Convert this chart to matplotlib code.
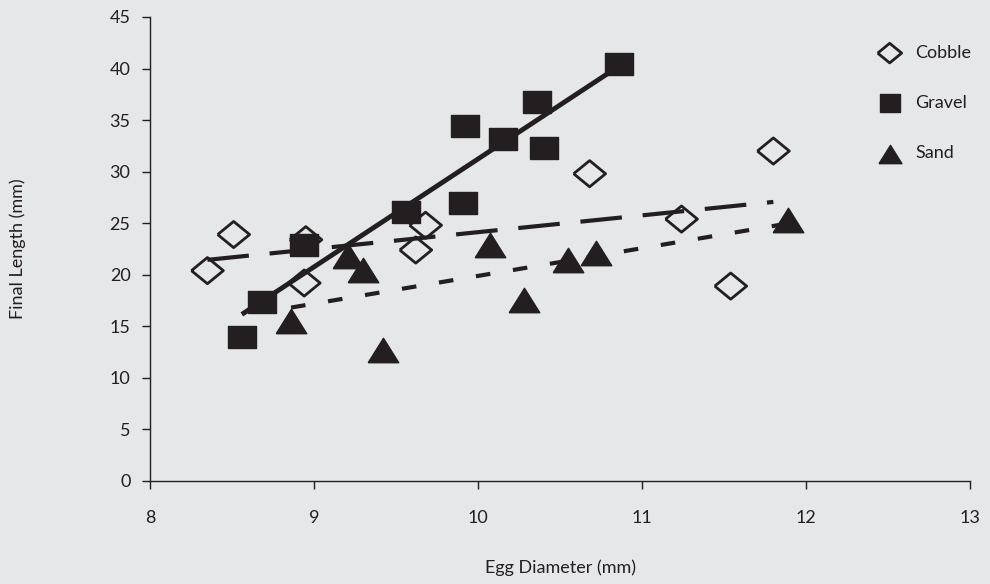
import numpy as np
import matplotlib.pyplot as plt

plt.rcParams['font.family'] = ['Lato', 'DejaVu Sans']

# Cobble
cobble_x = [8.35, 8.51, 8.95, 8.94, 9.68, 9.62, 10.68, 11.24, 11.80, 11.54]
cobble_y = [20.4, 23.9, 23.4, 19.2, 24.8, 22.4, 29.8, 25.4, 32.0, 18.9]

# Gravel
gravel_x = [8.56, 8.68, 8.94, 9.56, 9.91, 9.92, 10.15, 10.36, 10.40, 10.86]
gravel_y = [14.0, 17.4, 22.9, 26.1, 27.0, 34.4, 33.2, 36.8, 32.3, 40.4]

# Sand
sand_x = [8.86, 9.21, 9.30, 9.42, 10.07, 10.28, 10.55, 10.72, 11.89]
sand_y = [15.5, 21.8, 20.5, 12.7, 22.9, 17.6, 21.4, 22.1, 25.3]

bg = '#e6e7e8'
ink = '#231f20'

diamond = [(-1, 0), (0, 0.82), (1, 0), (0, -0.82), (-1, 0)]
square = [(-1, -0.82), (1, -0.82), (1, 0.82), (-1, 0.82), (-1, -0.82)]
triangle = [(-1, -0.8), (1, -0.8), (0, 0.8), (-1, -0.8)]

fig = plt.figure(figsize=(9.9, 5.84), dpi=100, facecolor=bg)
ax = fig.add_axes([0.1515, 0.1764, 0.8285, 0.7945])
ax.set_facecolor(bg)

def trend(x, y, **kw):
    # linear trendline over the range of the data
    k, b = np.polyfit(x, y, 1)
    xs = np.array([min(x), max(x)])
    ax.plot(xs, k * xs + b, color=ink, solid_capstyle='butt', dash_capstyle='butt', zorder=3, **kw)

ax.scatter(cobble_x, cobble_y, marker=diamond, s=23**2, facecolors='none',
           edgecolors=ink, linewidths=2, label='Cobble', zorder=2)
ax.scatter(gravel_x, gravel_y, marker=square, s=20**2, color=ink,
           label='Gravel', zorder=2)
ax.scatter(sand_x, sand_y, marker=triangle, s=22**2, color=ink,
           label='Sand', zorder=2)

trend(cobble_x, cobble_y, lw=3, dashes=(10, 5))
trend(gravel_x, gravel_y, lw=3.5)
trend(sand_x, sand_y, lw=3, dashes=(3.5, 5.5))

ax.set_xlim(8, 13)
ax.set_ylim(0, 45)
ax.set_xticks(range(8, 14))
ax.set_yticks(range(0, 50, 5))
ax.tick_params(direction='out', length=6, width=1, color=ink,
               labelsize=13, labelcolor=ink, pad=8)
ax.tick_params(axis='x', pad=15)
for s in ['top', 'right']:
    ax.spines[s].set_visible(False)
for s in ['left', 'bottom']:
    ax.spines[s].set_color(ink)
    ax.spines[s].set_linewidth(1)

ax.set_xlabel('Egg Diameter (mm)', fontsize=13, color=ink, labelpad=24)
ax.set_ylabel('Final Length (mm)', fontsize=13, color=ink, labelpad=60)

leg = ax.legend(loc='upper left', bbox_to_anchor=(0.86, 0.975), frameon=False,
                fontsize=13, labelspacing=1.9, handletextpad=0.4,
                markerscale=0.75, scatterpoints=1)
for t in leg.get_texts():
    t.set_color(ink)

fig.savefig('out.png', dpi=100, facecolor=bg)
